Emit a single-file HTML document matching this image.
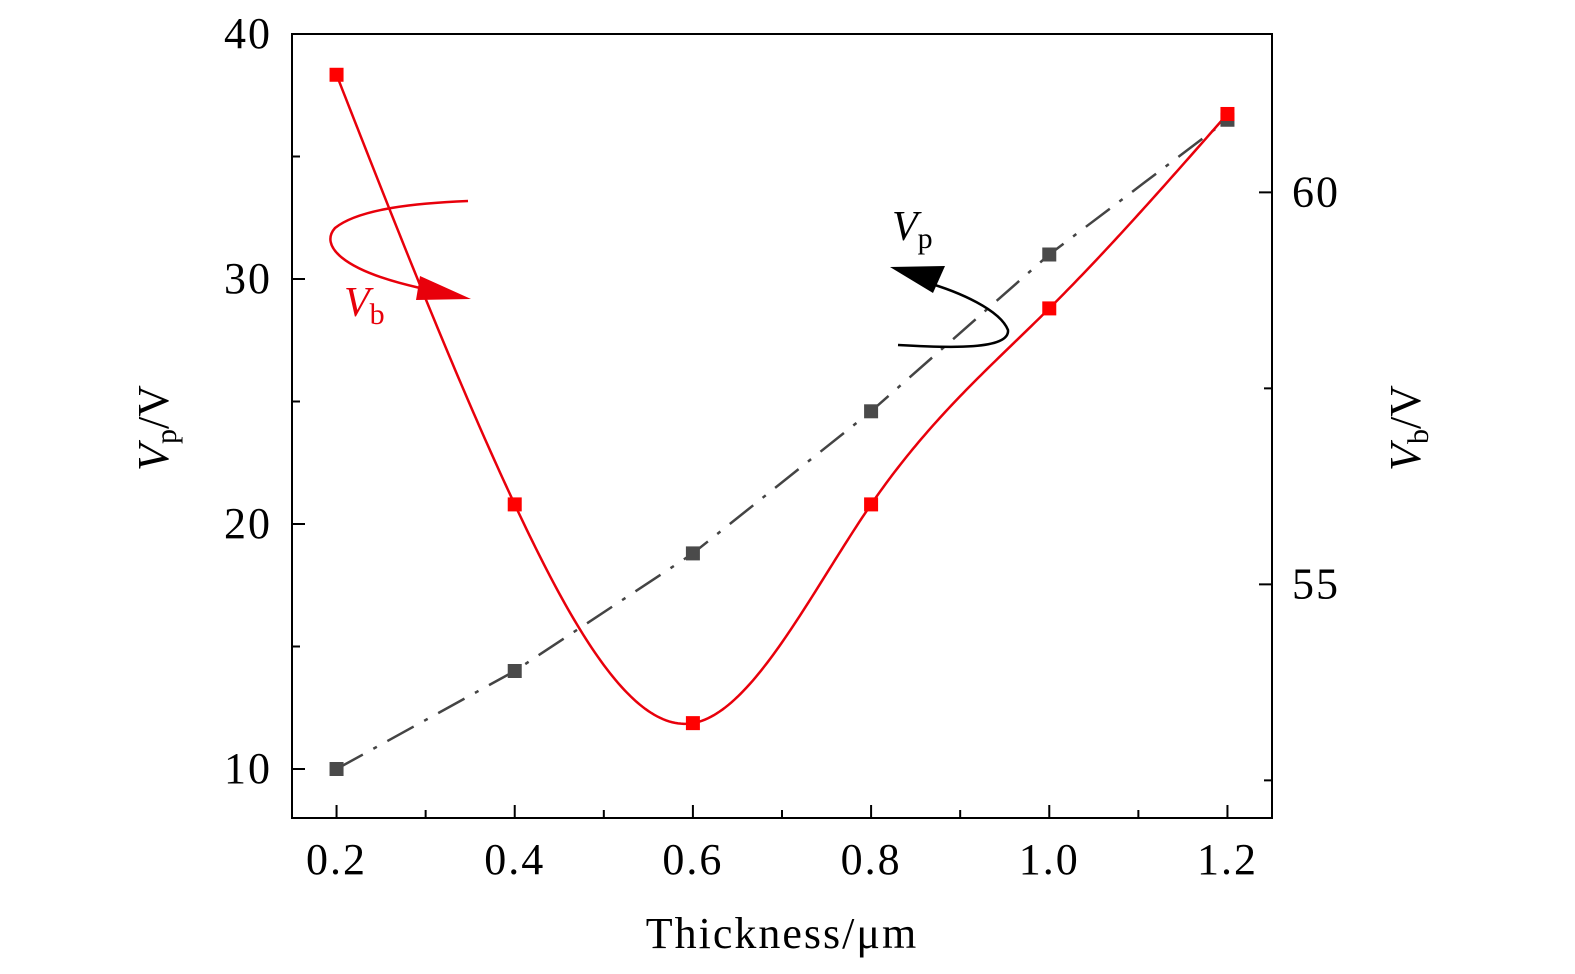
<!DOCTYPE html>
<html><head><meta charset="utf-8">
<style>
html,body{margin:0;padding:0;background:#fff;overflow:hidden;width:1575px;height:974px;}
svg{display:block;font-family:"Liberation Serif","DejaVu Serif",serif;}
</style></head>
<body>
<svg id="chart" width="1575" height="974" viewBox="0 0 1575 974" xmlns="http://www.w3.org/2000/svg">
<g id="axes"></g>
<g id="series"></g>
<g id="annot">
<path d="M468,201 C420,203 360,208 335,228 C320,245 340,270 420,288 L440,292" fill="none" stroke="#e8000b" stroke-width="2.5"/>
<polygon points="420,276 471,299 416,300" fill="#e8000b"/>
<text x="344" y="316" fill="#e8000b" font-size="42" font-style="italic">V<tspan font-style="normal" font-size="30" dy="8">b</tspan></text>
<path d="M898,345 C950,348 1010,350 1008,330 C1000,310 960,292 925,282" fill="none" stroke="#000" stroke-width="2.5"/>
<polygon points="890,267 945,266 933,293" fill="#000"/>
<text x="892" y="240" fill="#000" font-size="42" font-style="italic">V<tspan font-style="normal" font-size="30" dy="8">p</tspan></text>
</g>
</svg>
<script>
const categories=[0.2,0.4,0.6,0.8,1.0,1.2];
const vpValues=[10,14,18.8,24.6,31,36.5];
const vbValues=[61.5,56.02,53.23,56.02,58.52,61.0];
const xTicks=[0.2,0.4,0.6,0.8,1.0,1.2];
const xTickLabels=["0.2","0.4","0.6","0.8","1.0","1.2"];
const yLeftTicks=[10,20,30,40];
const yRightTicks=[55,60];

const L=292,R=1272,T=34,B=818;
const X=v=>L+(v-0.15)/(1.25-0.15)*(R-L);
const YL=v=>B-(v-8)/(40-8)*(B-T);
const YR=v=>B-(v-52.02)/(62.02-52.02)*(B-T);
const NS="http://www.w3.org/2000/svg";
function mk(tag,attrs,parent,txt){const e=document.createElementNS(NS,tag);for(const k in attrs)e.setAttribute(k,attrs[k]);if(txt!=null)e.textContent=txt;parent.appendChild(e);return e;}
const ax=document.getElementById('axes'),se=document.getElementById('series');

let fr=mk('rect',{x:L,y:T,width:R-L,height:B-T,fill:'none',stroke:'#000','stroke-width':2},ax);



for(let v=0.2;v<1.25;v+=0.1){const x=X(v);const major=Math.abs(Math.round(v*10)%2)===0;
 const t=mk('line',{x1:x,x2:x,y1:B,y2:B-(major?13:8),stroke:'#000','stroke-width':2},ax);
 
 }
xTicks.forEach((v,i)=>{const t=mk('text',{x:X(v),y:874,'text-anchor':'middle','font-size':44,'letter-spacing':'2'},ax,xTickLabels[i]);
 
 });
for(let v=10;v<=40;v+=5){const major=v%10===0;
 const t=mk('line',{x1:L,x2:L+(major?13:8),y1:YL(v),y2:YL(v),stroke:'#000','stroke-width':2},ax);
 
 }
yLeftTicks.forEach(v=>{const t=mk('text',{x:272,y:YL(v)+14,'text-anchor':'end','font-size':44,'letter-spacing':'2'},ax,String(v));
 
 });
for(let v=52.5;v<=60;v+=2.5){const major=v%5===0;
 const t=mk('line',{x1:R,x2:R-(major?13:8),y1:YR(v),y2:YR(v),stroke:'#000','stroke-width':2},ax);
 
 }
yRightTicks.forEach(v=>{const t=mk('text',{x:1292,y:YR(v)+14,'text-anchor':'start','font-size':44,'letter-spacing':'2'},ax,String(v));
 
 });

let xt=mk('text',{x:782,y:948,'text-anchor':'middle','font-size':44,'letter-spacing':'2'},ax,'Thickness/μm');


let yl=mk('text',{transform:'translate(168,428) rotate(-90)','text-anchor':'middle','font-size':44},ax);


yl.innerHTML='<tspan font-style="italic">V</tspan><tspan font-size="30" dy="8">p</tspan><tspan dy="-8">/V</tspan>';
let yr=mk('text',{transform:'translate(1420,428) rotate(-90)','text-anchor':'middle','font-size':44},ax);


yr.innerHTML='<tspan font-style="italic">V</tspan><tspan font-size="30" dy="8">b</tspan><tspan dy="-8">/V</tspan>';

const vpPts=categories.map((c,i)=>[X(c),YL(vpValues[i])]);
let vpl=mk('polyline',{points:vpPts.map(p=>p.join(',')).join(' '),fill:'none',stroke:'#444','stroke-width':2.5,'stroke-dasharray':'30,12,4,12'},se);



// natural cubic spline through Vb data
function naturalSpline(xs,ys){const n=xs.length,h=[],a=[],l=[1],mu=[0],z=[0],c=new Array(n).fill(0);
 for(let i=0;i<n-1;i++)h.push(xs[i+1]-xs[i]);
 for(let i=1;i<n-1;i++)a[i]=3/h[i]*(ys[i+1]-ys[i])-3/h[i-1]*(ys[i]-ys[i-1]);
 for(let i=1;i<n-1;i++){l[i]=2*(xs[i+1]-xs[i-1])-h[i-1]*mu[i-1];mu[i]=h[i]/l[i];z[i]=(a[i]-h[i-1]*z[i-1])/l[i];}
 l[n-1]=1;z[n-1]=0;const b=[],d=[];
 for(let j=n-2;j>=0;j--){c[j]=z[j]-mu[j]*c[j+1];b[j]=(ys[j+1]-ys[j])/h[j]-h[j]*(c[j+1]+2*c[j])/3;d[j]=(c[j+1]-c[j])/(3*h[j]);}
 return t=>{let j=0;while(j<n-2&&t>xs[j+1])j++;const dx=t-xs[j];return ys[j]+b[j]*dx+c[j]*dx*dx+d[j]*dx*dx*dx;};}
const sp=naturalSpline(categories,vbValues);
const x0=categories[0],x1=categories[categories.length-1];
let d='';
for(let k=0;k<=300;k++){const t=x0+(x1-x0)*k/300;d+=(k?'L':'M')+X(t).toFixed(2)+','+YR(sp(t)).toFixed(2);}
let vbl=mk('path',{d:d,fill:'none',stroke:'#e8000b','stroke-width':2.5},se);


const vbPts=categories.map((c,i)=>[X(c),YR(vbValues[i])]);
vpPts.forEach(p=>{const m=mk('rect',{x:p[0]-7,y:p[1]-7,width:14,height:14,fill:'#4a4a4a'},se);
 
 });
vbPts.forEach(p=>{const m=mk('rect',{x:p[0]-7,y:p[1]-7,width:14,height:14,fill:'#f00'},se);
 
 });
</script>
</body></html>
